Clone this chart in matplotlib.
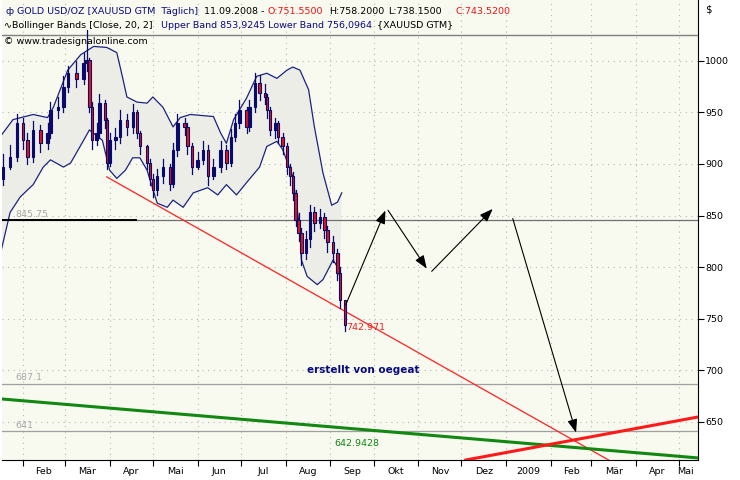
import matplotlib
matplotlib.use("Agg")
import matplotlib.pyplot as plt
import pandas as pd
import numpy as np

# ---- data ----
dates = ["01-18","01-23","01-28","02-01","02-04","02-08","02-13","02-18","02-20","02-25",
         "02-29","03-03","03-09","03-14","03-16","03-18","03-20","03-23","03-25","03-29",
         "03-30","04-01","04-05","04-08","04-13","04-17","04-20","04-22","04-27","04-29",
         "05-01","05-04","05-08","05-13","05-15","05-18","05-23","05-25","05-28","06-01",
         "06-05","06-08","06-12","06-17","06-21","06-24","06-27","06-30","07-05","07-07",
         "07-11","07-14","07-18","07-19","07-21","07-25","07-27","07-30","08-02","08-04",
         "08-06","08-08","08-10","08-12","08-15","08-18","08-21","08-25","08-28","08-30",
         "09-03","09-06","09-08","09-11"]
closes = [897,907,940,923,907,933,920,930,952,955,
          975,988,982,998,1001,955,923,930,959,943,
          901,923,926,943,936,950,930,917,901,885,
          875,888,897,881,914,940,936,917,897,904,
          914,888,897,914,901,926,940,952,936,955,
          979,969,965,952,933,940,926,917,897,888,
          872,846,833,814,827,853,843,849,836,824,
          814,794,768,743.52]
highs = [910,918,948,945,930,942,938,940,960,965,
         985,995,1000,1008,1030,1003,960,940,968,962,
         945,930,935,952,948,958,952,932,918,905,
         890,895,905,900,920,948,945,940,920,912,
         922,918,905,922,918,934,948,962,955,962,
         988,986,978,968,955,945,942,930,920,900,
         892,875,852,838,835,860,858,856,852,840,
         830,818,800,758.2]
lows = [880,895,903,915,900,902,912,915,925,945,
        950,970,975,978,990,950,915,918,925,935,
        895,898,915,920,928,930,925,910,895,880,
        868,870,882,875,878,908,928,910,890,895,
        900,880,885,892,895,898,922,935,930,932,
        950,962,958,945,928,925,920,910,890,880,
        865,840,825,802,808,820,835,838,828,815,
        805,788,760,738.15]
first_open = 885

upper_day = [16,24,38,48,52,62,71,80,89,96,100,103,110,117,121,128,135,140,147,163,168,172,177,186,193,200,207,214,218,223,229,233,239,245,249,252]
upper_val = [928,943,948,945,955,991,1006,1014,1013,1008,984,965,960,959,965,955,936,945,948,946,930,920,943,964,985,988,983,991,994,991,972,936,891,860,863,872]
lower_day = [16,22,29,38,45,50,59,64,73,77,86,91,96,102,107,112,117,124,131,135,142,149,159,166,172,179,186,195,200,207,211,218,223,224,228,235,239,246,249,251]
lower_val = [817,853,868,880,897,904,897,901,923,933,923,894,886,894,906,906,894,862,858,865,858,872,877,870,880,870,882,897,917,922,914,888,836,807,791,783,788,807,800,788]

support_line = [(89, 887.5), (437, 613.0)]     # thin red trendline (day, price)
green_line = [(16, 672.2), (499, 615.0)]
red_thick = [(338, 613.0), (499, 654.7)]
scenario = [(254, 761), (283, 857.4), (312, 796.3), (313, 794), (358, 858.4)]
final_arrow = [(370, 849.7), (415, 637)]
h_levels = [845.75, 687.1, 641]
y_ticks = [650, 700, 750, 800, 850, 900, 950, 1000]
month_labels = ["Feb","Mär","Apr","Mai","Jun","Jul","Aug","Sep","Okt","Nov","Dez","2009","Feb","Mär","Apr","Mai"]

# ---- figure ----
base = pd.Timestamp("2008-01-01")
day = np.array([(pd.Timestamp("2008-" + d) - base).days for d in dates])
opens = [first_open] + closes[:-1]

W, H = 740, 480
FS = 6.8
fig = plt.figure(figsize=(7.4, 4.8), dpi=100, facecolor="white")
ax = fig.add_axes([2/W, 20/H, 696/W, 460/H])
ax.set_facecolor("#f8faf0")
ax.set_xlim(16.4, 499)
ax.set_ylim(613, 1059)

month_starts = [(pd.Timestamp("2008-02-01") + pd.DateOffset(months=i) - base).days for i in range(17)]
for ms in month_starts:
    ax.axvline(ms, color="#b8b8b8", lw=0.8, ls=(0, (1, 4)), zorder=0)
for yt in y_ticks:
    ax.axhline(yt, color="#b8b8b8", lw=0.8, ls=(0, (1, 4)), zorder=0)

# bollinger band
poly_x = upper_day + lower_day[::-1]
poly_y = upper_val + lower_val[::-1]
ax.fill(poly_x, poly_y, color="#ededE8", zorder=1, lw=0)
ax.plot(upper_day, upper_val, color="#1a237e", lw=0.9, zorder=3)
ax.plot(lower_day, lower_val, color="#1a237e", lw=0.9, zorder=3)

# horizontal levels
ax.axhline(1025, color="#808080", lw=1.0, zorder=2)
for lv in h_levels:
    ax.axhline(lv, color="#a0a0a0" if lv != 845.75 else "#707070", lw=0.9, zorder=2)
ax.plot([16.4, 109], [845.75, 845.75], color="black", lw=1.4, zorder=3)
for lv, lab in zip(h_levels, ["845.75", "687.1", "641"]):
    ax.text(26, lv + 3, lab, color="#a8a8a8", fontsize=FS, zorder=3)

# candles
w = 1.6
for d, o, c, hi, lo in zip(day, opens, closes, highs, lows):
    ax.plot([d, d], [lo, hi], color="#0a0a6a", lw=0.9, zorder=4)
    col = "#ee1111" if c < o else "#0a0a6a"
    ax.add_patch(plt.Rectangle((d - w / 2, min(o, c)), w, max(abs(c - o), 0.8),
                               facecolor=col, edgecolor="#0a0a6a", lw=0.8, zorder=5))

# trend lines
ax.plot(*zip(*support_line), color="#ff2020", lw=0.9, zorder=3)
ax.plot(*zip(*green_line), color="#118811", lw=2.2, zorder=3)
ax.plot(*zip(*red_thick), color="#ff1a1a", lw=2.2, zorder=3)
ax.text(247, 627, "642.9428", color="#118811", fontsize=FS, zorder=6)
ax.text(255, 739, "742.971", color="#ff1a1a", fontsize=FS, zorder=6)
ax.text(228, 697, "erstellt von oegeat", color="#0a0a80", fontsize=7.5, fontweight="bold", zorder=6)

# scenario arrows
arr = dict(arrowstyle="-|>,head_length=0.8,head_width=0.3", color="black", lw=0.8)
pairs = [(scenario[0], scenario[1]), (scenario[1], scenario[2]), (scenario[3], scenario[4]), (final_arrow[0], final_arrow[1])]
for a, b in pairs:
    ax.annotate("", xy=b, xytext=a, arrowprops=arr, zorder=7)

# axes styling
for s in ["top", "left"]:
    ax.spines[s].set_visible(False)
ax.spines["right"].set_color("black")
ax.spines["bottom"].set_color("black")
ax.yaxis.tick_right()
ax.set_yticks(y_ticks)
ax.set_yticklabels([str(v) for v in y_ticks], fontsize=FS)
ax.tick_params(axis="y", length=4, width=0.8, pad=1)
ax.set_xticks(month_starts[:16])
ax.set_xticklabels([])
ax.tick_params(axis="x", which="major", length=4, width=0.8)
mids = [(a + b) / 2 for a, b in zip(month_starts[:16], month_starts[1:17])]
mids[-1] = 490
ax.set_xticks(mids, minor=True)
ax.set_xticklabels(month_labels, minor=True, fontsize=FS)
ax.tick_params(axis="x", which="minor", length=0, pad=5)
ax.set_xlim(16.4, 499)

fig.text(705 / W, 1 - 12 / H, "$", fontsize=FS + 0.5)

def t(x, y, s, c):
    fig.text(x / W, 1 - y / H, s, color=c, fontsize=FS, va="center", zorder=10)

t(6, 11, "ф", "#0a0a80")
t(17, 11, "GOLD USD/OZ [XAUUSD GTM  Täglich]", "#0a0a80")
t(204, 11, "11.09.2008 -", "black")
t(268, 11, "O:751.5500", "#ee1111")
t(329, 11, "H:758.2000", "black")
t(388, 11, "L:738.1500", "black")
t(456, 11, "C:743.5200", "#ee1111")
t(4, 25, "∿Bollinger Bands [Close, 20, 2]", "black")
t(161, 25, "Upper Band 853,9245 Lower Band 756,0964", "#0a0a80")
t(377, 25, "{XAUUSD GTM}", "black")
t(4, 42, "© www.tradesignalonline.com", "black")

fig.savefig("out.png", dpi=100, facecolor="white")
